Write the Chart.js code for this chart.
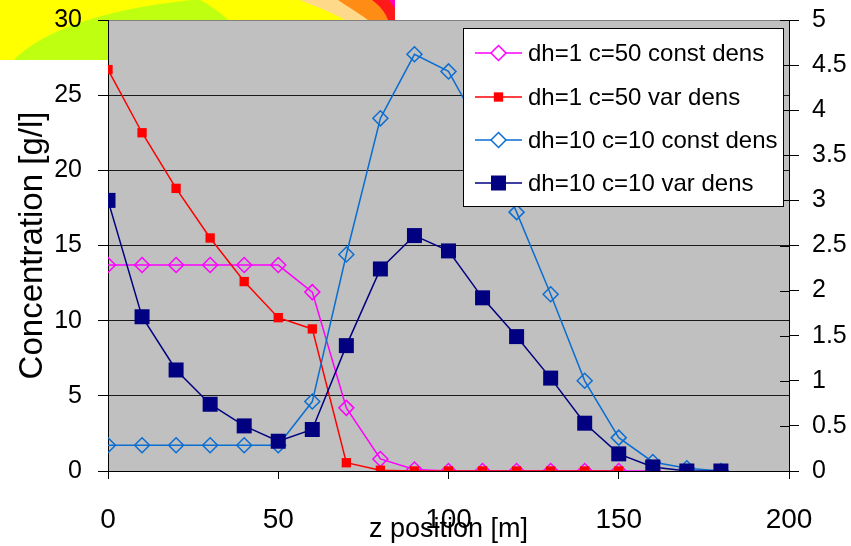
<!DOCTYPE html>
<html>
<head>
<meta charset="utf-8">
<script src="https://cdn.jsdelivr.net/npm/chart.js@4.4.1/dist/chart.umd.min.js"></script>
<style>
  html, body { margin: 0; padding: 0; background: #fff; }
  #wrap { position: relative; width: 851px; height: 546px; }
</style>
</head>
<body>
<div id="wrap"><canvas id="chart" width="851" height="546"></canvas></div>
<script>
// z positions [m]
const zPos = [0, 10, 20, 30, 40, 50, 60, 70, 80, 90, 100, 110, 120, 130, 140, 150, 160, 170, 180];

// left axis, concentration [g/l]
const dh1ConstDens = [13.7, 13.7, 13.7, 13.7, 13.7, 13.7, 11.9, 4.2, 0.8, 0.1, 0, 0, 0, 0, 0, 0, 0];
const dh1VarDens = [26.7, 22.5, 18.8, 15.5, 12.6, 10.2, 9.45, 0.55, 0.05, 0, 0, 0, 0, 0, 0, 0];

// right axis
const dh10ConstDens = [0.285, 0.285, 0.285, 0.285, 0.285, 0.285, 0.77, 2.4, 3.91, 4.62, 4.43, 3.75, 2.87, 1.96, 1.0, 0.37, 0.1, 0.03, 0];
const dh10VarDens = [3.0, 1.71, 1.12, 0.74, 0.5, 0.33, 0.46, 1.39, 2.24, 2.61, 2.44, 1.92, 1.49, 1.03, 0.53, 0.19, 0.045, 0, 0];

const seriesNames = ['dh=1 c=50 const dens', 'dh=1 c=50 var dens', 'dh=10 c=10 const dens', 'dh=10 c=10 var dens'];

const FONT = '"Liberation Sans", Arial, sans-serif';
const pts = (ys) => ys.map((y, i) => ({ x: zPos[i], y }));

// fixed box sizes so the plot sits where the original one does
const fixBox = (w, h) => (s) => {
  if (w != null) s.width = w;
  if (h != null) s.height = h;
  s.paddingTop = 0; s.paddingBottom = 0; s.paddingLeft = 0; s.paddingRight = 0;
};

// bit of another picture peeking in at the top-left corner
const cornerPic = {
  id: 'cornerPic',
  beforeDraw(chart) {
    const c = chart.ctx;
    c.save();
    c.beginPath(); c.rect(0, 0, 395, 62); c.clip();
    c.fillStyle = '#ffff00'; c.fillRect(0, 0, 395, 62);
    c.fillStyle = '#bfff10';
    c.beginPath();
    c.moveTo(12, 62);
    c.bezierCurveTo(40, 30, 110, 8, 192, 0);
    c.lineTo(200, 0);
    c.bezierCurveTo(220, 10, 240, 30, 270, 62);
    c.closePath(); c.fill();
    c.fillStyle = '#fff'; c.fillRect(0, 60, 395, 2);
    c.fillStyle = '#ffd98a';
    c.beginPath(); c.moveTo(300, 0); c.bezierCurveTo(320, 8, 335, 14, 345, 20); c.lineTo(395, 62); c.lineTo(395, 0); c.closePath(); c.fill();
    c.fillStyle = '#ff8c14';
    c.beginPath(); c.moveTo(338, 0); c.bezierCurveTo(350, 8, 360, 14, 368, 20); c.lineTo(395, 62); c.lineTo(395, 0); c.closePath(); c.fill();
    c.fillStyle = '#ff1a1a';
    c.beginPath(); c.moveTo(372, 0); c.bezierCurveTo(380, 6, 385, 12, 388, 20); c.lineTo(395, 40); c.lineTo(395, 0); c.closePath(); c.fill();
    c.fillStyle = '#ff00c0';
    c.beginPath(); c.moveTo(389, 0); c.lineTo(395, 0); c.lineTo(395, 8); c.closePath(); c.fill();
    c.restore();
    // grey plot area
    const a = chart.chartArea;
    c.save();
    c.fillStyle = '#c0c0c0';
    c.fillRect(a.left, a.top, a.right - a.left, a.bottom - a.top);
    c.restore();
  }
};

// right axis ticks also poke into the plot
const innerTicks = {
  id: 'innerTicks',
  afterDatasetsDraw(chart) {
    const c = chart.ctx, s = chart.scales.y1;
    c.save();
    c.strokeStyle = '#000'; c.lineWidth = 1;
    s.ticks.forEach((t) => {
      const y = Math.round(s.getPixelForValue(t.value)) + 0.5;
      c.beginPath(); c.moveTo(s.left - 9, y); c.lineTo(s.left, y); c.stroke();
    });
    c.restore();
  }
};

// boxed legend inside the plot, top right
const boxLegend = {
  id: 'boxLegend',
  afterDraw(chart) {
    const c = chart.ctx;
    const x0 = 463, y0 = 28, w = 320, h = 178;
    c.save();
    c.fillStyle = '#fff';
    c.fillRect(x0, y0, w, h);
    c.strokeStyle = '#000'; c.lineWidth = 1;
    c.strokeRect(x0 + 0.5, y0 + 0.5, w, h);
    const rows = [53, 97, 140, 183];
    chart.data.datasets.forEach((ds, i) => {
      const y = rows[i];
      c.strokeStyle = ds.borderColor; c.lineWidth = ds.borderWidth;
      c.beginPath(); c.moveTo(475, y); c.lineTo(522, y); c.stroke();
      c.fillStyle = ds.pointBackgroundColor === 'transparent' ? '#fff' : ds.pointBackgroundColor;
      c.strokeStyle = ds.pointBorderColor;
      c.lineWidth = ds.pointBorderWidth || 0.01;
      Chart.helpers.drawPoint(c, {
        pointStyle: ds.pointStyle, radius: ds.pointRadius, rotation: 0,
        borderWidth: ds.pointBorderWidth
      }, 498.5, y);
      c.fillStyle = '#000';
      c.font = '24px ' + FONT;
      c.textBaseline = 'middle';
      c.fillText(ds.label, 528, y + 1);
    });
    c.restore();
  }
};

new Chart(document.getElementById('chart'), {
  type: 'line',
  data: {
    datasets: [
      { label: seriesNames[0], data: pts(dh1ConstDens), yAxisID: 'y', order: 3,
        borderColor: '#ff00ff', borderWidth: 1.5, pointStyle: 'rectRot', pointRadius: 7.5,
        pointBackgroundColor: 'transparent', pointBorderColor: '#ff00ff', pointBorderWidth: 1.5 },
      { label: seriesNames[1], data: pts(dh1VarDens), yAxisID: 'y', order: 2,
        borderColor: '#ff0000', borderWidth: 1.5, pointStyle: 'rect', pointRadius: 6.6,
        pointBackgroundColor: '#ff0000', pointBorderColor: '#ff0000', pointBorderWidth: 0 },
      { label: seriesNames[2], data: pts(dh10ConstDens), yAxisID: 'y1', order: 1,
        borderColor: '#0a6ed2', borderWidth: 1.5, pointStyle: 'rectRot', pointRadius: 7.5,
        pointBackgroundColor: 'transparent', pointBorderColor: '#0a6ed2', pointBorderWidth: 1.5 },
      { label: seriesNames[3], data: pts(dh10VarDens), yAxisID: 'y1', order: 0,
        borderColor: '#000080', borderWidth: 1.5, pointStyle: 'rect', pointRadius: 10.6,
        pointBackgroundColor: '#000080', pointBorderColor: '#000080', pointBorderWidth: 0 }
    ]
  },
  options: {
    responsive: false,
    animation: false,
    layout: { autoPadding: false, padding: { top: 20, left: 0, right: 0, bottom: 0 } },
    plugins: { legend: { display: false }, tooltip: { enabled: false } },
    elements: { line: { tension: 0 } },
    scales: {
      x: {
        type: 'linear', min: 0, max: 200,
        ticks: { stepSize: 50, color: '#000', font: { family: FONT, size: 28 }, padding: 24, maxRotation: 0 },
        grid: { drawOnChartArea: false, tickLength: 8, color: '#000' },
        border: { color: '#000' },
        title: { display: true, text: 'z position [m]', color: '#000', font: { family: FONT, size: 27 }, padding: { top: 0, bottom: 0 } },
        afterFit: fixBox(null, 75)
      },
      y: {
        position: 'left', min: 0, max: 30,
        ticks: { stepSize: 5, color: '#000', font: { family: FONT, size: 25 }, padding: 16 },
        grid: { color: (ctx) => ctx.tick && ctx.tick.value === 30 ? '#808080' : '#1a1a1a', tickColor: '#000', tickLength: 10 },
        border: { color: '#000' },
        title: { display: true, text: 'Concentration [g/l]', color: '#000', font: { family: FONT, size: 33 }, padding: { top: 13, bottom: 0 } },
        afterFit: fixBox(108, null)
      },
      y1: {
        position: 'right', min: 0, max: 5,
        ticks: { stepSize: 0.5, color: '#000', font: { family: FONT, size: 25 }, padding: 13, callback: (v) => String(v) },
        grid: { drawOnChartArea: false, tickLength: 10, color: '#000' },
        border: { color: '#000' },
        afterFit: fixBox(62, null)
      }
    }
  },
  plugins: [cornerPic, innerTicks, boxLegend]
});
</script>
</body>
</html>
